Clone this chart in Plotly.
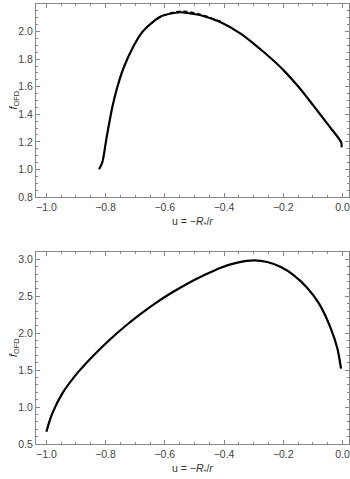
import plotly.graph_objects as go
from plotly.subplots import make_subplots

# Top panel: solid curve
u_top = [-0.822, -0.811, -0.796, -0.777, -0.760, -0.738, -0.704, -0.680, -0.659, -0.614,
         -0.569, -0.545, -0.524, -0.479, -0.413, -0.344, -0.276, -0.237, -0.197, -0.150,
         -0.100, -0.050, -0.004, -0.003]
f_top = [1.001, 1.052, 1.238, 1.455, 1.600, 1.743, 1.900, 1.985, 2.035, 2.110,
         2.135, 2.140, 2.135, 2.118, 2.069, 1.985, 1.870, 1.797, 1.715, 1.603,
         1.468, 1.328, 1.195, 1.160]
# Top panel: dashed curve (nearly coincident)
u_top_d = [-0.680, -0.640, -0.600, -0.570, -0.545, -0.520, -0.490, -0.450, -0.410]
f_top_d = [1.990, 2.068, 2.120, 2.141, 2.147, 2.144, 2.131, 2.104, 2.072]

# Bottom panel
u_bot = [-1.000, -0.990, -0.980, -0.946, -0.901, -0.845, -0.788, -0.732, -0.687, -0.636,
         -0.580, -0.524, -0.468, -0.411, -0.355, -0.299, -0.254, -0.208, -0.164, -0.118,
         -0.079, -0.039, -0.017, -0.005]
f_bot = [0.666, 0.800, 0.915, 1.185, 1.432, 1.680, 1.905, 2.101, 2.245, 2.395,
         2.541, 2.671, 2.784, 2.887, 2.955, 2.986, 2.964, 2.896, 2.784, 2.610,
         2.400, 2.060, 1.790, 1.520]

x_ticks = [-1.0, -0.8, -0.6, -0.4, -0.2, 0.0]
x_tick_text = ["\u22121.0", "\u22120.8", "\u22120.6", "\u22120.4", "\u22120.2", "0.0"]
y_top_ticks = [0.8, 1.0, 1.2, 1.4, 1.6, 1.8, 2.0, 2.2]
y_bot_ticks = [0.5, 1.0, 1.5, 2.0, 2.5, 3.0]

fig = make_subplots(rows=2, cols=1, vertical_spacing=0.125)

fig.add_trace(go.Scatter(x=u_top, y=f_top, mode="lines",
                         line=dict(color="black", width=2.2, shape="spline", smoothing=0.8),
                         showlegend=False), row=1, col=1)
fig.add_trace(go.Scatter(x=u_top_d, y=f_top_d, mode="lines",
                         line=dict(color="black", width=1.5, dash="4px,3px", shape="spline", smoothing=0.8),
                         showlegend=False), row=1, col=1)
fig.add_trace(go.Scatter(x=u_bot, y=f_bot, mode="lines",
                         line=dict(color="black", width=2.2, shape="spline", smoothing=0.8),
                         showlegend=False), row=2, col=1)

tickfont = dict(family="Liberation Sans, Arial, sans-serif", size=10.5, color="#444")
frame = dict(showline=True, linecolor="#888", linewidth=1, mirror="ticks",
             ticks="inside", ticklen=4, tickcolor="#888", tickwidth=1,
             showgrid=False, zeroline=False, tickfont=tickfont)

for r in (1, 2):
    fig.update_xaxes(range=[-1.035, 0.022], tickvals=x_ticks, ticktext=x_tick_text,
                     minor=dict(dtick=0.05, ticks="inside", ticklen=2, tickcolor="#888", showgrid=False),
                     row=r, col=1, **frame)
fig.update_yaxes(range=[0.8, 2.2], tickvals=y_top_ticks,
                 ticktext=[f"{v:.1f}" for v in y_top_ticks],
                 minor=dict(dtick=0.05, ticks="inside", ticklen=2, tickcolor="#888", showgrid=False),
                 row=1, col=1, **frame)
fig.update_yaxes(range=[0.5, 3.1], tickvals=y_bot_ticks,
                 ticktext=[f"{v:.1f}" for v in y_bot_ticks],
                 minor=dict(dtick=0.1, ticks="inside", ticklen=2, tickcolor="#888", showgrid=False),
                 row=2, col=1, **frame)

fig.update_layout(
    xaxis=dict(domain=[0, 1]), xaxis2=dict(domain=[0, 1]),
    yaxis=dict(domain=[0.5614, 1.0]), yaxis2=dict(domain=[0.0, 0.4364]),
)

labfont = dict(family="Liberation Sans, Arial, sans-serif", size=10.5, color="#333")
xlabel = "u = \u2212<i>R</i><sub>*</sub>/<i>r</i>"
ylabel = "<i>f</i><sub>OFD</sub>"
annotations = [
    dict(text=xlabel, xref="x domain", yref="y domain", x=0.5, y=0, yshift=-25,
         showarrow=False, font=labfont, xanchor="center", yanchor="middle"),
    dict(text=xlabel, xref="x2 domain", yref="y2 domain", x=0.5, y=0, yshift=-25,
         showarrow=False, font=labfont, xanchor="center", yanchor="middle"),
    dict(text=ylabel, xref="paper", yref="y domain", x=0, xshift=-22, y=0.5,
         textangle=-90, showarrow=False, font=labfont, xanchor="center", yanchor="middle"),
    dict(text=ylabel, xref="paper", yref="y2 domain", x=0, xshift=-22, y=0.5,
         textangle=-90, showarrow=False, font=labfont, xanchor="center", yanchor="middle"),
]
fig.update_layout(
    width=350, height=479,
    margin=dict(l=36, r=1, t=4, b=35),
    paper_bgcolor="white", plot_bgcolor="white",
    annotations=annotations,
)

fig.write_html("out.html", config={"displayModeBar": False},
               post_script="document.body.style.margin='0';document.body.style.overflow='hidden';")
